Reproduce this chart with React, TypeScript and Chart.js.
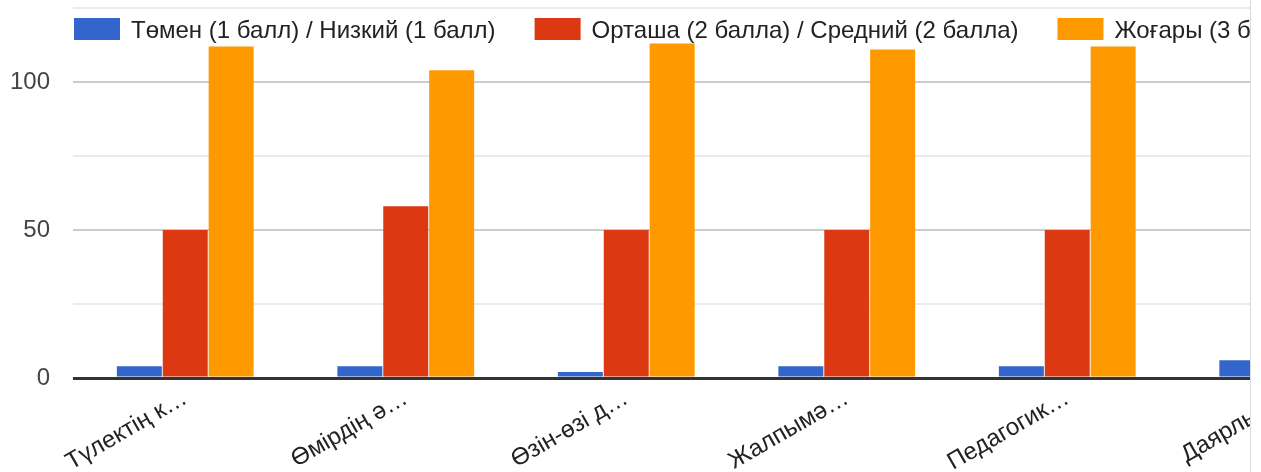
import React, { useEffect, useRef } from 'react';
import { Chart, registerables } from 'chart.js';

Chart.register(...registerables);

const categories = ['Түлектің к…', 'Өмірдің ә…', 'Өзін-өзі д…', 'Жалпымә…', 'Педагогик…', 'Даярлық…'];
const seriesLabels = [
  'Төмен (1 балл) / Низкий (1 балл)',
  'Орташа (2 балла) / Средний (2 балла)',
  'Жоғары (3 балла) / Высокий (3 балла)',
];
const lowValues = [4, 4, 2, 4, 4, 6];
const midValues = [50, 58, 50, 50, 50, 50];
const highValues = [112, 104, 113, 111, 112, 112];
const yTickLabels = [0, 50, 100];
const seriesColors = ['#3366cc', '#dc3912', '#ff9900'];

const FONT = '"Liberation Sans", Arial, sans-serif';

const legendPlugin = {
  id: 'topLegend',
  afterDraw(chart: any) {
    const ctx = chart.ctx as CanvasRenderingContext2D;
    ctx.save();
    ctx.font = `24px ${FONT}`;
    ctx.textBaseline = 'alphabetic';
    ctx.textAlign = 'left';
    let x = 74;
    chart.data.datasets.forEach((ds: any) => {
      ctx.fillStyle = ds.backgroundColor;
      ctx.fillRect(x, 18, 46, 22);
      ctx.fillStyle = '#222222';
      const tx = x + 57;
      ctx.fillText(ds.label, tx, 38);
      x = tx + ctx.measureText(ds.label).width + 39;
    });
    ctx.restore();
  },
};

export default function App() {
  const canvasRef = useRef<HTMLCanvasElement | null>(null);

  useEffect(() => {
    if (!canvasRef.current) return;
    Chart.defaults.font.family = FONT;
    const valuesList = [lowValues, midValues, highValues];
    const chart = new Chart(canvasRef.current, {
      type: 'bar',
      data: {
        labels: categories,
        datasets: valuesList.map((vals, i) => ({
          label: seriesLabels[i],
          data: vals,
          backgroundColor: seriesColors[i],
          borderWidth: 0,
          categoryPercentage: 0.6245,
          barPercentage: 0.98,
        })),
      },
      options: {
        animation: false,
        responsive: false,
        devicePixelRatio: 1,
        layout: { padding: { top: 8, left: 0, right: 0, bottom: 0 } },
        plugins: { legend: { display: false }, tooltip: { enabled: false } },
        scales: {
          x: {
            grid: { display: false, drawTicks: false },
            border: { display: false },
            ticks: {
              autoSkip: false,
              maxRotation: 30,
              minRotation: 30,
              color: '#222222',
              font: { size: 24, family: FONT },
              padding: 6,
            },
            afterFit: (s: any) => {
              s.height = 94;
              s.paddingLeft = 0;
              s.paddingRight = 0;
            },
          },
          y: {
            min: 0,
            max: 125,
            ticks: {
              stepSize: 25,
              color: '#444444',
              font: { size: 24, family: FONT },
              padding: 23,
              callback: (v: any) => (yTickLabels.includes(Number(v)) ? String(v) : ''),
            },
            grid: {
              tickLength: 2,
              color: (c: any) => {
                const v = c.tick ? c.tick.value : 1;
                if (v === 0) return '#333333';
                return v % 50 === 0 ? '#cccccc' : '#ebebeb';
              },
              lineWidth: (c: any) => (c.tick && c.tick.value === 0 ? 3 : 2),
            },
            border: { display: false },
            afterFit: (s: any) => {
              s.width = 75;
              s.paddingTop = 0;
              s.paddingBottom = 0;
            },
          },
        },
      },
      plugins: [legendPlugin],
    });
    return () => chart.destroy();
  }, []);

  return (
    <div
      style={{
        position: 'absolute',
        top: 0,
        left: 0,
        width: 1250,
        height: 472,
        overflow: 'hidden',
        borderRight: '1px solid #dadce0',
        background: '#ffffff',
      }}
    >
      <canvas ref={canvasRef} width={1398} height={472} style={{ display: 'block' }} />
    </div>
  );
}
